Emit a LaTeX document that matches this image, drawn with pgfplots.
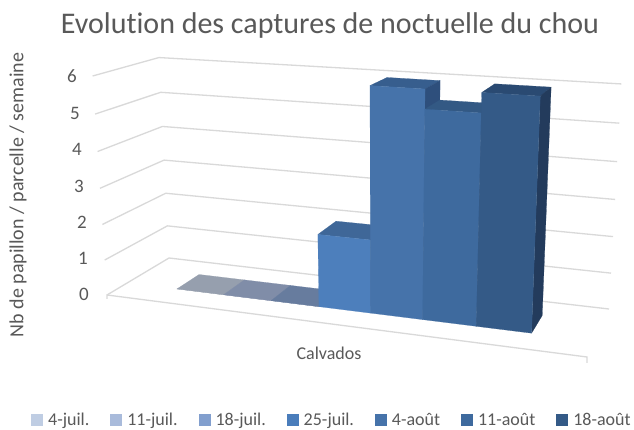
\documentclass[border=0pt]{standalone}
\usepackage{pgfplots}
\pgfplotsset{compat=1.18}
\usepackage{fontspec}
\setmainfont[Ligatures={NoCommon}]{Carlito}
\definecolor{txt}{HTML}{595959}
\definecolor{gridc}{HTML}{D9D9D9}
% legend colours
\definecolor{s1}{HTML}{BFCDE3}
\definecolor{s2}{HTML}{A9BBDB}
\definecolor{s3}{HTML}{829FCE}
\definecolor{s4}{HTML}{4A7DBB}
\definecolor{s5}{HTML}{4673AA}
\definecolor{s6}{HTML}{3E6A9E}
\definecolor{s7}{HTML}{345A87}
% projective map: u along the front edge (0..1), v depth (0..1), w = value (0..6)
\pgfplotsset{/pgfplots/table/proj/.style={
  x expr={(107+406.1*\thisrow{u}+78.43*\thisrow{v}-19*\thisrow{w}/6)/(1-0.12589*\thisrow{u}+0.0972*\thisrow{v}-0.05*\thisrow{w}/6)},
  y expr={430-(295+17.06*\thisrow{u}-11.92*\thisrow{v}-222.8*\thisrow{w}/6)/(1-0.12589*\thisrow{u}+0.0972*\thisrow{v}-0.05*\thisrow{w}/6)},
  row sep=\\}}
% grid line at value #1: front-left, back-left, back-right
\newcommand\gridat[1]{\addplot[gridc,line width=1.3pt,forget plot] table[proj] {u v w\\ 0 0 #1\\ 0 1 #1\\ 1 1 #1\\};}
% bar: #1 u0, #2 u1, #3 value, #4 top, #5 side, #6 front
\newcommand\barat[6]{%
 \addplot[fill=#4,draw=#4,line width=0.2pt,forget plot] table[proj] {u v w\\ #1 0.31 #3\\ #2 0.31 #3\\ #2 0.69 #3\\ #1 0.69 #3\\ #1 0.31 #3\\};
 \addplot[fill=#5,draw=#5,line width=0.2pt,forget plot] table[proj] {u v w\\ #2 0.31 0\\ #2 0.69 0\\ #2 0.69 #3\\ #2 0.31 #3\\ #2 0.31 0\\};
 \addplot[fill=#6,draw=#6,line width=0.2pt,forget plot] table[proj] {u v w\\ #1 0.31 0\\ #2 0.31 0\\ #2 0.31 #3\\ #1 0.31 #3\\ #1 0.31 0\\};
}
\definecolor{t1}{HTML}{969FAE}\definecolor{t2}{HTML}{808DA8}\definecolor{t3}{HTML}{677C9E}
\definecolor{t4}{HTML}{3F6798}\definecolor{d4}{HTML}{345A87}\definecolor{f4}{HTML}{4D7FBC}
\definecolor{t5}{HTML}{375E8E}\definecolor{d5}{HTML}{2E4F7C}\definecolor{f5}{HTML}{4673AA}
\definecolor{t6}{HTML}{335984}\definecolor{d6}{HTML}{2C4C76}\definecolor{f6}{HTML}{3E6A9E}
\definecolor{t7}{HTML}{2A4A72}\definecolor{d7}{HTML}{233B5C}\definecolor{f7}{HTML}{345A87}
\begin{document}
\begin{tikzpicture}
\begin{axis}[
  scale only axis, width=634pt, height=430pt,
  xmin=0, xmax=634, ymin=0, ymax=430,
  axis lines=none, clip=false,
  axis background/.style={fill=white},
  xtick=\empty, ytick=\empty,
  title={\fontsize{30}{32}\selectfont\color{txt}Evolution des captures de noctuelle du chou},
  title style={at={(axis cs:330,398)},anchor=center,inner sep=0pt},
  legend columns=7,
  legend cell align=left,
  legend style={at={(axis cs:332,10)},anchor=center,draw=none,fill=none,inner sep=0pt,
    font=\fontsize{18}{20}\selectfont\color{txt},
    /tikz/every odd column/.append style={column sep=3.5pt},
    /tikz/every even column/.append style={column sep=19pt}},
  legend image code/.code={\fill[#1] (0pt,-5.5pt) rectangle (11pt,5.5pt);},
]
\addlegendimage{s1}\addlegendentry{4-juil.}
\addlegendimage{s2}\addlegendentry{11-juil.}
\addlegendimage{s3}\addlegendentry{18-juil.}
\addlegendimage{s4}\addlegendentry{25-juil.}
\addlegendimage{s5}\addlegendentry{4-août}
\addlegendimage{s6}\addlegendentry{11-août}
\addlegendimage{s7}\addlegendentry{18-août}
\gridat{0}\gridat{1}\gridat{2}\gridat{3}\gridat{4}\gridat{5}\gridat{6}
% floor front edge with end ticks
\addplot[gridc,line width=1.3pt,forget plot] table[row sep=\\] {x y\\ 107 131\\ 107 135\\ 587 73\\ 587 67\\};
\barat{0.119}{0.228}{0}{t1}{t1}{t1}
\barat{0.228}{0.336}{0}{t2}{t2}{t2}
\barat{0.336}{0.442}{0}{t3}{t3}{t3}
\barat{0.442}{0.553}{2}{t4}{d4}{f4}
\barat{0.553}{0.662}{6}{t5}{d5}{f5}
\barat{0.662}{0.771}{5.5}{t6}{d6}{f6}
\barat{0.771}{0.880}{6}{t7}{d7}{f7}
\node[txt,font=\fontsize{19}{20}\selectfont] at (axis cs:72,354) {6};
\node[txt,font=\fontsize{19}{20}\selectfont] at (axis cs:75,317) {5};
\node[txt,font=\fontsize{19}{20}\selectfont] at (axis cs:77,281) {4};
\node[txt,font=\fontsize{19}{20}\selectfont] at (axis cs:79,244) {3};
\node[txt,font=\fontsize{19}{20}\selectfont] at (axis cs:82,208) {2};
\node[txt,font=\fontsize{19}{20}\selectfont] at (axis cs:83,172) {1};
\node[txt,font=\fontsize{19}{20}\selectfont] at (axis cs:84,136) {0};
\node[txt,font=\fontsize{18}{20}\selectfont] at (axis cs:329,77) {Calvados};
\node[txt,font=\fontsize{20}{22}\selectfont,rotate=90] at (axis cs:18,235) {Nb de papillon / parcelle / semaine};
\end{axis}
\end{tikzpicture}
\end{document}
